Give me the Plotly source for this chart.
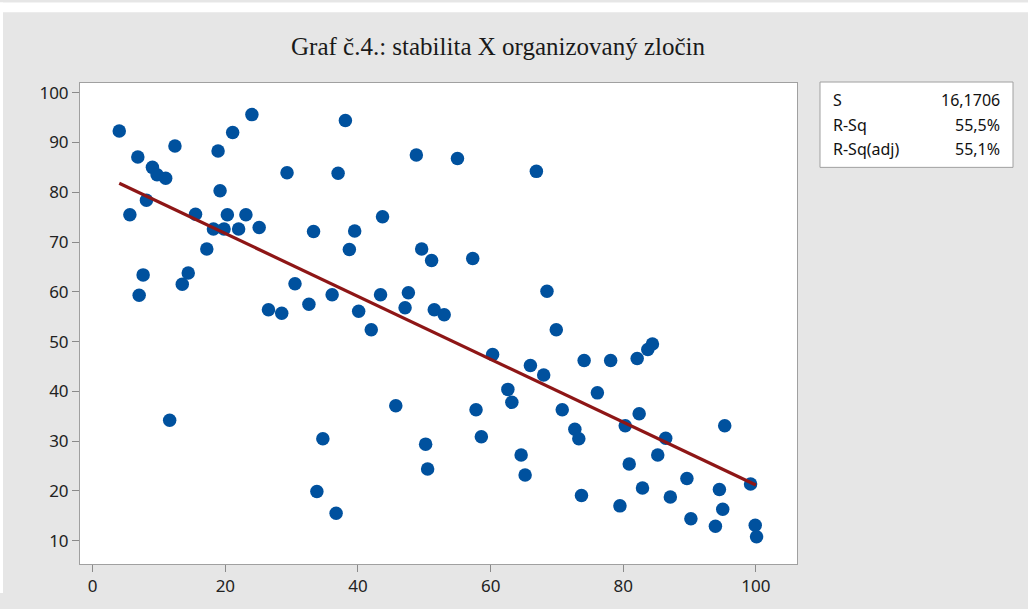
import plotly.graph_objects as go

# ---- data ----
stabilita = [4.0, 24.0, 21.1, 12.4, 18.9, 6.8, 9.0, 9.7, 11.0, 29.3, 19.2, 8.1, 5.6, 15.5,
             20.3, 23.1, 18.2, 19.8, 22.0, 25.1, 33.3, 17.2,
             38.1, 48.8, 55.0, 37.0, 66.9, 43.7, 39.5, 38.7, 49.6, 51.1, 57.3, 68.5, 36.1,
             43.4, 47.6, 40.1, 47.1, 51.5, 53.0,
             7.6, 14.4, 13.5, 7.0, 30.5, 26.5, 28.5, 32.6, 42.0, 45.7, 11.6, 34.7, 50.2,
             50.5, 33.8, 36.7,
             69.9, 60.3, 66.0, 68.0, 74.1, 78.1, 82.1, 83.7, 84.4, 62.6, 63.2, 57.8, 76.1,
             70.8, 82.4, 80.3, 72.7, 73.3, 58.6, 86.4, 95.3, 85.2, 64.6, 80.9, 65.2, 89.6,
             99.2, 82.9, 94.5, 73.7, 87.1, 79.5, 95.0, 90.2, 93.9, 99.9, 100.1]
zlocin = [92.3, 95.6, 92.0, 89.3, 88.3, 87.1, 85.0, 83.5, 82.8, 83.9, 80.3, 78.4, 75.5, 75.6,
          75.5, 75.5, 72.6, 72.6, 72.6, 72.9, 72.1, 68.6,
          94.4, 87.5, 86.8, 83.8, 84.2, 75.1, 72.2, 68.5, 68.6, 66.3, 66.7, 60.1, 59.4,
          59.4, 59.8, 56.1, 56.8, 56.4, 55.4,
          63.4, 63.8, 61.5, 59.3, 61.6, 56.4, 55.7, 57.5, 52.4, 37.1, 34.2, 30.5, 29.4,
          24.4, 19.9, 15.5,
          52.4, 47.4, 45.2, 43.3, 46.2, 46.2, 46.6, 48.4, 49.5, 40.4, 37.8, 36.3, 39.7,
          36.3, 35.5, 33.1, 32.4, 30.5, 30.9, 30.6, 33.1, 27.2, 27.2, 25.4, 23.2, 22.5,
          21.4, 20.6, 20.3, 19.1, 18.8, 17.0, 16.3, 14.4, 12.9, 13.1, 10.8]

fit_x = [4.0, 100.0]
fit_y = [81.8, 21.2]

x_ticks = [0, 20, 40, 60, 80, 100]
y_ticks = [10, 20, 30, 40, 50, 60, 70, 80, 90, 100]

stat_names = ["S", "R-Sq", "R-Sq(adj)"]
stat_values = ["16,1706", "55,5%", "55,1%"]

title_text = "Graf č.4.: stabilita X organizovaný zločin"

# ---- layout geometry ----
W, H = 1028, 609
L, R, T, B = 80, 797, 83, 579
PW, PH = R - L, B - T


def px2x(px):
    return (px - L) / PW


def px2y(py):
    return (B - py) / PH


fig = go.Figure()
fig.add_trace(go.Scatter(
    x=stabilita, y=zlocin, mode="markers",
    marker=dict(size=13.5, color="#00519E", line=dict(width=0)),
    showlegend=False, hoverinfo="x+y"))
fig.add_trace(go.Scatter(
    x=fit_x, y=fit_y, mode="lines",
    line=dict(color="#8E1616", width=3.2),
    showlegend=False))

axis_common = dict(
    showgrid=False, zeroline=False, showline=True, mirror=True,
    linecolor="#A0A0A0", linewidth=1,
    ticks="outside", ticklen=7, tickwidth=1, tickcolor="#8A8A8A",
    tickfont=dict(family="Noto Sans", size=17, color="#222222"),
)
fig.update_xaxes(range=[-1.92, 106.2], tickvals=x_ticks, **axis_common)
fig.update_yaxes(range=[5.32, 101.95], tickvals=y_ticks, **axis_common)

shapes = []
# white strips at top and left of the picture
shapes.append(dict(type="rect", xref="paper", yref="paper",
                   x0=px2x(0), x1=px2x(W), y0=px2y(10), y1=px2y(0),
                   fillcolor="white", line=dict(width=0), layer="below"))
shapes.append(dict(type="rect", xref="paper", yref="paper",
                   x0=px2x(0), x1=px2x(3), y0=px2y(H), y1=px2y(0),
                   fillcolor="white", line=dict(width=0), layer="below"))
# stats box
shapes.append(dict(type="rect", xref="paper", yref="paper",
                   x0=px2x(820), x1=px2x(1013), y0=px2y(170), y1=px2y(82),
                   fillcolor="white", line=dict(color="#A0A0A0", width=1)))

annotations = [dict(text=title_text, xref="paper", yref="paper",
                    x=px2x(498), y=px2y(45), xanchor="center", yanchor="middle",
                    showarrow=False,
                    font=dict(family="Liberation Serif", size=25, color="#1A1A1A"))]
row_y = [101, 126, 151]
for name, val, ry in zip(stat_names, stat_values, row_y):
    annotations.append(dict(text=name, xref="paper", yref="paper",
                            x=px2x(831), y=px2y(ry), xanchor="left", yanchor="middle",
                            showarrow=False,
                            font=dict(family="Noto Sans", size=16, color="#111111")))
    annotations.append(dict(text=val, xref="paper", yref="paper",
                            x=px2x(1002), y=px2y(ry), xanchor="right", yanchor="middle",
                            showarrow=False,
                            font=dict(family="Noto Sans", size=16, color="#111111")))

fig.update_layout(
    width=W, height=H,
    margin=dict(l=L, r=W - R, t=T, b=H - B, pad=0),
    paper_bgcolor="#E6E6E6", plot_bgcolor="white",
    shapes=shapes, annotations=annotations,
    showlegend=False,
)

fig.write_html("out.html")
